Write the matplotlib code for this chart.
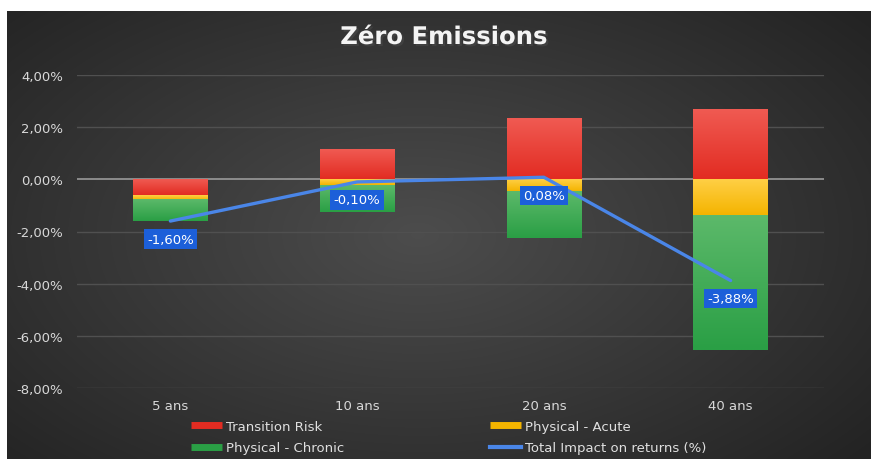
import numpy as np
import matplotlib
matplotlib.use("Agg")
import matplotlib.pyplot as plt
from matplotlib.lines import Line2D
from matplotlib.colors import to_rgb
import matplotlib.patheffects as pe

plt.rcParams['font.family'] = ['DejaVu Sans']

### Data (in %)
horizons = ["5 ans", "10 ans", "20 ans", "40 ans"]
transition_risk = [-0.61, 1.15, 2.32, 2.65]
physical_acute = [-0.17, -0.22, -0.45, -1.38]
physical_chronic = [-0.82, -1.03, -1.79, -5.15]
total_impact = [-1.60, -0.10, 0.08, -3.88]
yticks = [4, 2, 0, -2, -4, -6, -8]

# (top, bottom) colours of each segment's gradient
red = ("#f05a52", "#e22c22")
yellow = ("#ffcf45", "#f4b400")
green = ("#5cb96a", "#2a9f45")
blue = "#4a86e8"

fig = plt.figure(figsize=(8.71, 4.6), dpi=100)
fig.patch.set_facecolor("white")

# dark radial background of the chart frame
bg = fig.add_axes([7 / 871, 0, 1 - 7 / 871, 1 - 12 / 460])
gx, gy = np.meshgrid(np.linspace(-1, 1, 400), np.linspace(-1, 1, 220))
r = np.sqrt((gx + 0.05) ** 2 + (gy * 0.9) ** 2)
shade = 0.30 - 0.16 * np.clip(r / 1.35, 0, 1)
bg.imshow(np.dstack([shade] * 3), aspect="auto", extent=[0, 1, 0, 1], interpolation="bicubic")
bg.set_axis_off()

ax = fig.add_axes([77 / 871, 1 - 389 / 460, (824 - 77) / 871, (389 - 76) / 460])
ax.patch.set_alpha(0)
x = np.arange(len(horizons))
w = 0.4

tr = np.array(transition_risk)
pa = np.array(physical_acute)
pc = np.array(physical_chronic)


def grad_bar(xc, y0, y1, cols):
    top, bot = to_rgb(cols[0]), to_rgb(cols[1])
    t = np.linspace(0, 1, 64)[:, None]
    img = np.array(top)[None, :] * (1 - t) + np.array(bot)[None, :] * t
    ax.imshow(img[:, None, :], aspect="auto", interpolation="bilinear",
              extent=[xc - w / 2, xc + w / 2, min(y0, y1), max(y0, y1)], zorder=2)


# stacked bars: positives go up from 0, negatives stack down
pos_base = np.zeros(len(x))
neg_base = np.zeros(len(x))
for vals, col in [(tr, red), (pa, yellow), (pc, green)]:
    bottoms = np.where(vals >= 0, pos_base, neg_base)
    for xi, b, v in zip(x, bottoms, vals):
        grad_bar(xi, b, b + v, col)
    pos_base = pos_base + np.where(vals >= 0, vals, 0)
    neg_base = neg_base + np.where(vals < 0, vals, 0)

ax.plot(x, total_impact, color=blue, lw=2.4, zorder=3, solid_capstyle="round")
for xi, v in zip(x, total_impact):
    ax.annotate(("%.2f%%" % v).replace(".", ","), (xi, v), xytext=(0, -13),
                textcoords="offset points", ha="center", va="center",
                color="white", fontsize=9.5, zorder=4,
                bbox=dict(boxstyle="square,pad=0.25", fc="#1c5fd9", ec="none"))

ax.set_xlim(-0.5, len(x) - 0.5)
ax.set_ylim(-8, 4)
ax.set_yticks(yticks)
ax.set_yticklabels([("%.2f%%" % t).replace(".", ",") for t in yticks])
ax.set_xticks(x)
ax.set_xticklabels(horizons)
ax.tick_params(colors="#d8d8d8", labelsize=9.5, length=0, pad=10)
ax.tick_params(axis="x", pad=8)
for t in yticks:
    ax.axhline(t, color="#9a9a9a" if t == 0 else "#505050", lw=1.2 if t == 0 else 1, zorder=1)
for s in ax.spines.values():
    s.set_visible(False)

fig.text(0.509, 1 - 38 / 460, "Zéro Emissions", ha="center", va="center", color="#f4f4f4",
         fontsize=17.5, fontweight="bold",
         path_effects=[pe.withSimplePatchShadow(offset=(1.5, -1.5), alpha=0.6)])

handles = [Line2D([], [], color=red[1], lw=5, solid_capstyle="butt"),
           Line2D([], [], color=green[1], lw=5, solid_capstyle="butt"),
           Line2D([], [], color=yellow[1], lw=5, solid_capstyle="butt"),
           Line2D([], [], color=blue, lw=3)]
labels = ["Transition Risk", "Physical - Chronic", "Physical - Acute", "Total Impact on returns (%)"]
fig.legend(handles, labels, ncol=2, loc="center", bbox_to_anchor=(0.515, 1 - 438 / 460),
           frameon=False, fontsize=9.5, labelcolor="#e0e0e0", handlelength=2.4,
           handletextpad=0.3, columnspacing=11, labelspacing=0.65)

fig.savefig("out.png", dpi=100)
